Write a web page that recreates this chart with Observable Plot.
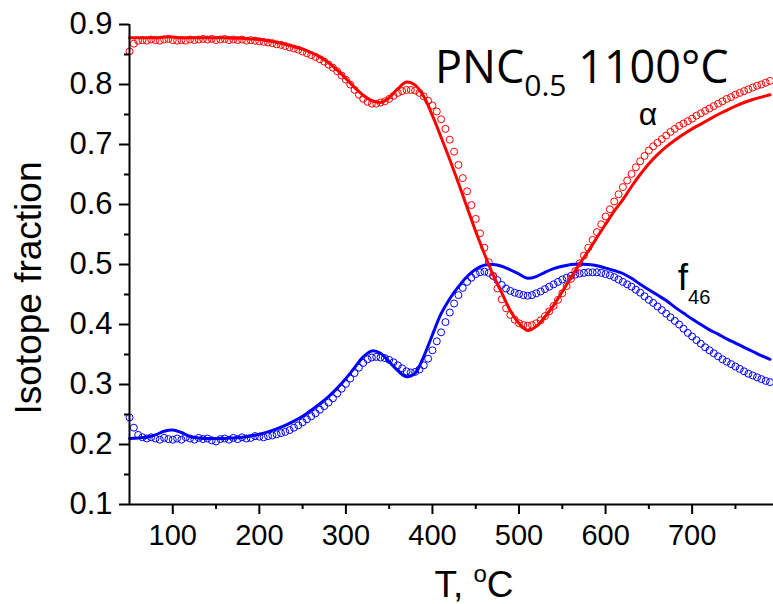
<!DOCTYPE html>
<html><head><meta charset="utf-8">
<script src="https://cdn.jsdelivr.net/npm/d3@7"></script>
<script src="https://cdn.jsdelivr.net/npm/@observablehq/plot@0.6"></script>
<style>body{margin:0;background:#fff}</style>
</head><body><div id="chart"></div>
<script>
// Temperatures of the measured points (°C)
const expT = [50,55,60,65,70,75,80,85,90,95,100,105,110,115,120,125,130,135,140,145,150,155,160,165,170,175,180,185,190,195,
200,205,210,215,220,225,230,235,240,245,250,255,260,265,270,275,280,285,290,295,
300,305,310,315,320,325,330,335,340,345,350,355,360,365,370,375,380,385,390,395,
400,405,410,415,420,425,430,435,440,445,450,455,460,465,470,475,480,485,490,495,
500,505,510,515,520,525,530,535,540,545,550,555,560,565,570,575,580,585,590,595,
600,605,610,615,620,625,630,635,640,645,650,655,660,665,670,675,680,685,690,695,
700,705,710,715,720,725,730,735,740,745,750,755,760,765,770,775,780,785,790];
// measured alpha (red circles)
const alphaExp = [.855,.868,.873,.874,.873,.875,.874,.873,.875,.876,.874,.873,.874,.873,.875,.874,.875,.876,.875,.876,.874,.875,.876,.874,.875,.874,.875,.873,.874,.873,
.872,.871,.870,.869,.867,.866,.864,.862,.860,.858,.855,.852,.849,.846,.842,.838,.833,.828,.822,.815,
.808,.800,.791,.783,.776,.771,.768,.768,.770,.772,.776,.781,.786,.789,.791,.791,.790,.786,.780,.773,
.765,.755,.742,.726,.708,.688,.666,.644,.622,.599,.576,.552,.528,.504,.481,.460,.442,.427,.416,.408,
.402,.399,.398,.399,.402,.407,.414,.422,.431,.441,.452,.464,.476,.489,.502,.515,.528,.541,.554,.567,
.580,.592,.605,.617,.629,.640,.651,.662,.672,.681,.690,.697,.703,.709,.715,.721,.726,.731,.735,.739,
.743,.748,.752,.756,.760,.764,.768,.772,.776,.779,.783,.786,.789,.792,.795,.798,.800,.803,.806];
// measured f46 (blue circles)
const f46Exp = [.245,.228,.216,.212,.210,.212,.210,.208,.211,.209,.208,.210,.208,.212,.210,.208,.211,.209,.210,.207,.205,.209,.210,.208,.211,.209,.212,.210,.211,.214,
.213,.212,.214,.215,.217,.219,.221,.224,.228,.232,.237,.242,.247,.252,.258,.264,.270,.277,.285,.293,
.301,.310,.319,.328,.336,.342,.345,.346,.345,.344,.341,.337,.332,.327,.322,.320,.321,.325,.332,.343,
.357,.372,.387,.404,.420,.435,.449,.461,.471,.478,.484,.487,.488,.486,.481,.474,.466,.460,.456,.453,
.451,.449,.448,.449,.452,.455,.459,.463,.467,.471,.475,.478,.481,.483,.485,.486,.487,.487,.487,.486,
.484,.482,.479,.475,.471,.467,.463,.458,.453,.447,.441,.436,.430,.424,.418,.412,.406,.400,.393,.386,
.380,.374,.368,.362,.357,.352,.347,.342,.338,.334,.330,.326,.322,.318,.315,.312,.309,.306,.304];

// Temperatures of the model curves (°C)
const fitT = [50,60,70,80,90,100,110,120,130,140,150,160,170,180,190,
200,210,220,230,240,250,260,270,280,290,300,310,320,330,340,350,360,370,380,390,
400,410,420,430,440,450,460,470,480,490,500,510,520,530,540,550,560,570,580,590,
600,610,620,630,640,650,660,670,680,690,700,710,720,730,740,750,760,770,780,790];
// model alpha (red line)
const alphaFit = [.878,.878,.878,.878,.879,.879,.878,.878,.878,.878,.878,.878,.877,.877,.876,
.875,.873,.870,.867,.863,.859,.853,.846,.836,.824,.810,.795,.782,.773,.770,.778,.793,.804,.799,.780,
.748,.712,.675,.636,.595,.555,.518,.483,.453,.423,.402,.390,.397,.413,.432,.455,.478,.501,.522,.545,
.567,.589,.608,.630,.650,.668,.683,.696,.707,.717,.726,.734,.742,.750,.757,.764,.770,.775,.779,.783];
// model f46 (blue line)
const f46Fit = [.210,.211,.212,.216,.222,.224,.220,.213,.211,.210,.210,.210,.211,.212,.214,
.217,.221,.226,.232,.239,.247,.257,.268,.280,.294,.310,.328,.346,.356,.352,.338,.323,.313,.319,.347,
.383,.418,.443,.463,.480,.492,.499,.500,.497,.491,.484,.477,.480,.487,.493,.497,.500,.501,.500,.498,
.494,.490,.485,.477,.467,.458,.449,.440,.429,.419,.409,.400,.391,.384,.376,.369,.362,.355,.348,.342];

const xMajor = [100,200,300,400,500,600,700];
const xMinor = [150,250,350,450,550,650,750];
const yMajor = [0.1,0.2,0.3,0.4,0.5,0.6,0.7,0.8,0.9];
const yMinor = [0.15,0.25,0.35,0.45,0.55,0.65,0.75,0.85];

const rows = (ts, vs) => ts.map((t, i) => ({t, v: vs[i]}));
const RED = "#ff0000", BLUE = "#0000ff";

const chart = Plot.plot({
  width: 773, height: 604,
  marginLeft: 129, marginRight: 0, marginTop: 24, marginBottom: 100,
  style: {fontFamily: "'Liberation Sans', Arial, sans-serif", background: "#fff", color: "#000", overflow: "visible"},
  x: {domain: [50, 794]},
  y: {domain: [0.1, 0.9]},
  marks: [
    Plot.dot(rows(expT, f46Exp), {x: "t", y: "v", r: 3.5, stroke: BLUE, strokeWidth: 1, fill: "none"}),
    Plot.dot(rows(expT, alphaExp), {x: "t", y: "v", r: 3.5, stroke: RED, strokeWidth: 1, fill: "none"}),
    Plot.line(rows(fitT, f46Fit), {x: "t", y: "v", stroke: BLUE, strokeWidth: 3, curve: "catmull-rom"}),
    Plot.line(rows(fitT, alphaFit), {x: "t", y: "v", stroke: RED, strokeWidth: 3, curve: "catmull-rom"}),
    Plot.ruleX([50], {strokeWidth: 2}),
    Plot.ruleY([0.1], {strokeWidth: 2}),
    Plot.axisX({ticks: xMajor, tickSize: 10, tickPadding: 10, strokeWidth: 2, fontSize: 29, label: null, tickFormat: d => String(d)}),
    Plot.axisX({ticks: xMinor, tickSize: 5, strokeWidth: 2, label: null, tickFormat: () => ""}),
    Plot.axisY({ticks: yMajor, tickSize: 10, tickPadding: 7, strokeWidth: 2, fontSize: 31, label: null, tickFormat: d => d.toFixed(1)}),
    Plot.axisY({ticks: yMinor, tickSize: 5, strokeWidth: 2, label: null, tickFormat: () => ""})
  ]
});

document.getElementById("chart").appendChild(chart);

const svg = d3.select(chart);
const sx = chart.scale("x"), sy = chart.scale("y");

// Title annotation
const title = svg.append("text")
  .attr("x", sx.apply(403.5)).attr("y", sy.apply(0.801))
  .attr("text-anchor", "start")
  .attr("font-family", "'Open Sans', sans-serif").attr("font-size", 45).attr("fill", "#000");
title.append("tspan").text("PNC");
title.append("tspan").attr("font-size", 30).attr("dy", 13).text("0.5");
title.append("tspan").attr("dy", -13).text(" 1100°C");

// alpha label
svg.append("text")
  .attr("x", sx.apply(649.5)).attr("y", sy.apply(0.732))
  .attr("text-anchor", "middle")
  .attr("font-size", 32).attr("fill", "#000").text("α");

// f46 label
const f = svg.append("text")
  .attr("x", sx.apply(684)).attr("y", sy.apply(0.457))
  .attr("text-anchor", "start")
  .attr("font-size", 37).attr("fill", "#000");
f.append("tspan").text("f");
f.append("tspan").attr("font-size", 20).attr("dy", 14).text("46");

// axis titles
const xl = svg.append("text")
  .attr("x", 474).attr("y", 597).attr("text-anchor", "middle")
  .attr("font-size", 37).attr("fill", "#000");
xl.append("tspan").text("T, ");
xl.append("tspan").attr("font-size", 24).attr("dy", -15).text("o");
xl.append("tspan").attr("dy", 15).text("C");

svg.append("text")
  .attr("transform", "translate(41,288) rotate(-90)")
  .attr("text-anchor", "middle")
  .attr("font-size", 37).attr("fill", "#000").text("Isotope fraction");
</script>
</body></html>
